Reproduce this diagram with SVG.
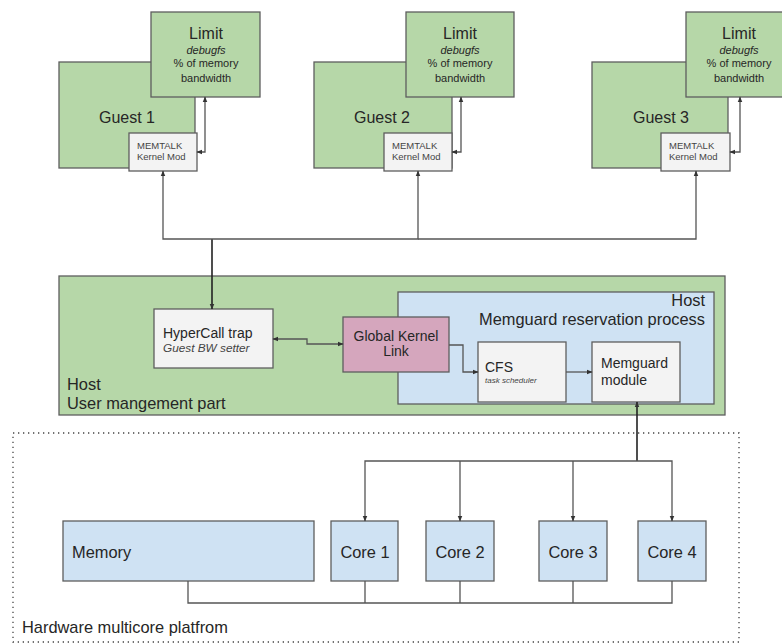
<svg xmlns="http://www.w3.org/2000/svg" width="782" height="643" viewBox="0 0 782 643">
<style>
text{font-family:"Liberation Sans",Arial,sans-serif;fill:#262626}
.g{fill:#b6d7a8;stroke:#5e5e5e;stroke-width:1.3}
.w{fill:#f3f3f3;stroke:#5e5e5e;stroke-width:1.3}
.b{fill:#cfe2f3;stroke:#5e5e5e;stroke-width:1.3}
.p{fill:#d5a6bd;stroke:#5e5e5e;stroke-width:1.3}
.c{fill:none;stroke:#555;stroke-width:1.3}
.k{fill:none;stroke:#222;stroke-width:1.6}
.t16{font-size:16px}
.i11{font-size:11px;font-style:italic}
.s11{font-size:11px}
.m{font-size:9.5px;fill:#444}
.t14{font-size:14px}
.L{font-size:16.4px}
.mid{text-anchor:middle}
</style>
<defs>
<marker id="a" viewBox="0 0 10 10" refX="9" refY="5" markerWidth="6" markerHeight="6" markerUnits="userSpaceOnUse" orient="auto-start-reverse"><path d="M0,1 L10,5 L0,9 z" fill="#333"/></marker>
</defs>
<g id="hw">
<rect x="13" y="433" width="726" height="209" fill="none" stroke="#444" stroke-width="1.3" stroke-dasharray="1.3 3.7"/>
<text x="22" y="633" class="L">Hardware multicore platfrom</text>
</g>
<g id="guest1">
<rect class="g" x="59" y="62" width="136" height="106"/>
<text class="t16 mid" x="127" y="123">Guest 1</text>
</g>
<g id="limit1">
<rect class="g" x="151" y="12" width="109" height="85"/>
<text class="t16 mid" x="206" y="39">Limit</text>
<text class="i11 mid" x="206" y="54">debugfs</text>
<text class="s11 mid" x="206" y="67">% of memory</text>
<text class="s11 mid" x="206" y="82">bandwidth</text>
</g>
<g id="memtalk1">
<rect class="w" x="129" y="133" width="68" height="38"/>
<text class="m" x="137" y="149">MEMTALK</text>
<text class="m" x="137" y="160">Kernel Mod</text>
</g>
<g id="guest2">
<rect class="g" x="314" y="62" width="138" height="106"/>
<text class="t16 mid" x="382" y="123">Guest 2</text>
</g>
<g id="limit2">
<rect class="g" x="406" y="12" width="108" height="85"/>
<text class="t16 mid" x="460" y="39">Limit</text>
<text class="i11 mid" x="460" y="54">debugfs</text>
<text class="s11 mid" x="460" y="67">% of memory</text>
<text class="s11 mid" x="460" y="82">bandwidth</text>
</g>
<g id="memtalk2">
<rect class="w" x="384" y="133" width="68" height="38"/>
<text class="m" x="392" y="149">MEMTALK</text>
<text class="m" x="392" y="160">Kernel Mod</text>
</g>
<g id="guest3">
<rect class="g" x="592" y="62" width="136" height="106"/>
<text class="t16 mid" x="661" y="123">Guest 3</text>
</g>
<g id="limit3">
<rect class="g" x="686" y="12" width="108" height="85"/>
<text class="t16 mid" x="739" y="39">Limit</text>
<text class="i11 mid" x="739" y="54">debugfs</text>
<text class="s11 mid" x="739" y="67">% of memory</text>
<text class="s11 mid" x="739" y="82">bandwidth</text>
</g>
<g id="memtalk3">
<rect class="w" x="661" y="133" width="69" height="38"/>
<text class="m" x="669" y="149">MEMTALK</text>
<text class="m" x="669" y="160">Kernel Mod</text>
</g>
<g id="host">
<rect class="g" x="59" y="276" width="666" height="139"/>
<text x="67" y="390" class="L">Host</text>
<text x="67" y="409" class="L">User mangement part</text>
</g>
<g id="memguard-process">
<rect class="b" x="398" y="292" width="316" height="112"/>
<text x="705" y="306" text-anchor="end" class="L">Host</text>
<text x="705" y="325" text-anchor="end" class="L">Memguard reservation process</text>
</g>
<g id="hypercall">
<rect class="w" x="154" y="309" width="119" height="59"/>
<text x="163" y="338" class="t14">HyperCall trap</text>
<text x="163" y="352" style="font-size:11.8px;font-style:italic;fill:#444">Guest BW setter</text>
</g>
<g id="global-kernel-link">
<rect class="p" x="343" y="317" width="106" height="55"/>
<text x="396" y="341" class="mid" style="font-size:14px">Global Kernel</text>
<text x="396" y="356" class="mid" style="font-size:14px">Link</text>
</g>
<g id="cfs">
<rect class="w" x="478" y="342" width="88" height="60"/>
<text x="485" y="372" class="t14">CFS</text>
<text x="485" y="383" style="font-size:8px;font-style:italic;fill:#444">task scheduler</text>
</g>
<g id="memguard-module">
<rect class="w" x="592" y="342" width="88" height="60"/>
<text x="601" y="368" class="t14">Memguard</text>
<text x="601" y="385" class="t14">module</text>
</g>
<g id="memory">
<rect class="b" x="63" y="521" width="251" height="60"/>
<text x="72" y="558" class="L">Memory</text>
</g>
<g id="core1">
<rect class="b" x="331" y="521" width="67" height="60"/>
<text x="365" y="558" class="mid L">Core 1</text>
</g>
<g id="core2">
<rect class="b" x="426" y="521" width="68" height="60"/>
<text x="460" y="558" class="mid L">Core 2</text>
</g>
<g id="core3">
<rect class="b" x="539" y="521" width="68" height="60"/>
<text x="573" y="558" class="mid L">Core 3</text>
</g>
<g id="core4">
<rect class="b" x="638" y="521" width="68" height="60"/>
<text x="672" y="558" class="mid L">Core 4</text>
</g>
<g id="connectors">
<path class="c" d="M197,152 H205 V97" marker-start="url(#a)" marker-end="url(#a)"/>
<path class="c" d="M452,152 H461 V97" marker-start="url(#a)" marker-end="url(#a)"/>
<path class="c" d="M730,152 H740 V97" marker-start="url(#a)" marker-end="url(#a)"/>
<path class="k" d="M212,239 V309" marker-end="url(#a)"/>
<path class="c" d="M212,239 H163 V171" marker-end="url(#a)"/>
<path class="c" d="M212,239 H418 V171" marker-end="url(#a)"/>
<path class="c" d="M418,239 H696 V171" marker-end="url(#a)"/>
<path class="c" d="M343,344 H307 V339 H273" marker-start="url(#a)" marker-end="url(#a)"/>
<path class="c" d="M449,345 H463 V372 H478" marker-end="url(#a)"/>
<path class="c" d="M566,372 H592" marker-end="url(#a)"/>
<path class="k" d="M637,461 V402" marker-end="url(#a)"/>
<path class="c" d="M637,461 H365 V521" marker-end="url(#a)"/>
<path class="c" d="M637,461 H672 V521" marker-end="url(#a)"/>
<path class="c" d="M460,461 V521" marker-end="url(#a)"/>
<path class="c" d="M573,461 V521" marker-end="url(#a)"/>
<path class="c" d="M188,581 V603 H672 V581"/>
<path class="c" d="M365,581 V603 M460,581 V603 M573,581 V603"/>
</g>
</svg>
